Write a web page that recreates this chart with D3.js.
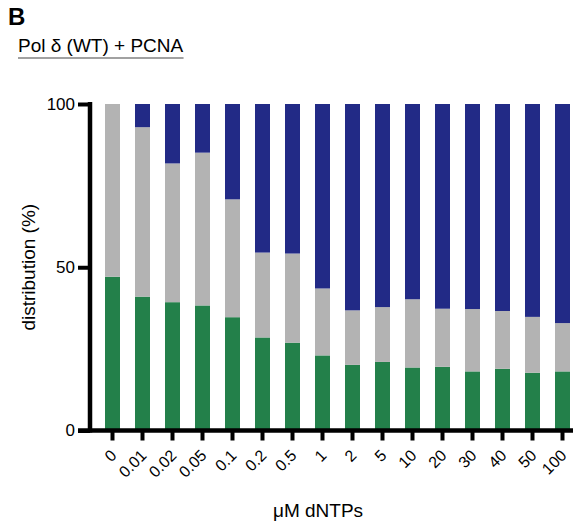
<!DOCTYPE html>
<html>
<head>
<meta charset="utf-8">
<script src="https://cdn.jsdelivr.net/npm/d3@7"></script>
<style>
  body { margin: 0; background: #fff; }
  text { font-family: "Liberation Sans", Arial, sans-serif; }
</style>
</head>
<body>
<svg id="chart" width="579" height="527"></svg>
<script>
// dNTP concentrations (uM) and the share of each product class per lane (%)
const concentrations = ['0', '0.01', '0.02', '0.05', '0.1', '0.2', '0.5', '1', '2', '5', '10', '20', '30', '40', '50', '100'];
const greenPct = [47.1, 41.0, 39.3, 38.3, 34.7, 28.5, 26.9, 23.0, 20.1, 21.0, 19.3, 19.5, 18.1, 18.9, 17.7, 18.1];
const grayPct  = [52.9, 51.9, 42.5, 46.8, 36.1, 26.0, 27.3, 20.5, 16.7, 16.8, 20.9, 17.8, 19.1, 17.7, 17.1, 14.8];
const bluePct  = [0.0, 7.1, 18.2, 14.9, 29.2, 45.5, 45.8, 56.5, 63.2, 62.2, 59.8, 62.7, 62.8, 63.4, 65.2, 67.1];
const yTicks = [0, 50, 100];

const colors = {green: '#23804a', gray: '#b3b3b3', blue: '#222a86'};

const rows = concentrations.map((c, i) => ({
    conc: c, green: greenPct[i], gray: grayPct[i], blue: bluePct[i]
}));

const svg = d3.select('#chart');

const xScale = d3.scaleBand()
    .domain(concentrations)
    .range([96, 579])
    .paddingInner(0.5)
    .paddingOuter(0.3);

const yScale = d3.scaleLinear()
    .domain([0, 100])
    .range([430.5, 104]);

// Stacked bars
const series = d3.stack().keys(['green', 'gray', 'blue'])(rows);

svg.append('g')
    .selectAll('g')
    .data(series)
    .enter()
    .append('g')
    .attr('fill', d => colors[d.key])
    .selectAll('rect')
    .data(d => d)
    .enter()
    .append('rect')
    .attr('x', d => xScale(d.data.conc))
    .attr('y', d => yScale(d[1]))
    .attr('width', xScale.bandwidth())
    .attr('height', d => yScale(d[0]) - yScale(d[1]));

// Y axis
const yAxis = svg.append('g')
    .attr('transform', 'translate(90,0)')
    .call(d3.axisLeft(yScale).tickValues(yTicks).tickSize(12).tickSizeOuter(0).tickPadding(3));
yAxis.select('.domain').attr('stroke-width', 4.5).attr('d', `M0,${yScale(100) - 2}V${yScale(0) + 2}`);
yAxis.selectAll('.tick line').attr('stroke-width', 4);
yAxis.selectAll('.tick text')
    .style('font-size', '17px')
    .style('font-family', '"Liberation Sans", Arial, sans-serif')
    .attr('fill', '#000');

// X axis
const xAxis = svg.append('g')
    .attr('transform', `translate(0,${yScale(0)})`)
    .call(d3.axisBottom(xScale).tickSize(10).tickSizeOuter(0));
xAxis.select('.domain').attr('stroke-width', 4.5)
    .attr('d', `M78,0H${xScale(concentrations[concentrations.length - 1]) + xScale.bandwidth() + 3}`);
xAxis.selectAll('.tick line').attr('stroke-width', 4);
xAxis.selectAll('.tick text')
    .style('font-size', '16px')
    .style('font-family', '"Liberation Sans", Arial, sans-serif')
    .attr('fill', '#000')
    .attr('text-anchor', 'end')
    .attr('dy', null)
    .attr('y', 0)
    .attr('transform', 'translate(5,26) rotate(-45)');

// Axis titles
svg.append('text')
    .attr('transform', `translate(35,${yScale(50)}) rotate(-90)`)
    .attr('text-anchor', 'middle')
    .style('font-size', '19px')
    .text('distribution (%)');

svg.append('text')
    .attr('x', 318)
    .attr('y', 517)
    .attr('text-anchor', 'middle')
    .style('font-size', '19px')
    .text('\u03BCM dNTPs');

// Panel letter and header
svg.append('text')
    .attr('x', 8)
    .attr('y', 25)
    .style('font-size', '24px')
    .style('font-weight', 'bold')
    .text('B');

const header = svg.append('text')
    .attr('x', 18)
    .attr('y', 52)
    .style('font-size', '19px')
    .text('Pol \u03B4 (WT) + PCNA');

const hb = header.node().getBBox();
svg.append('line')
    .attr('x1', hb.x)
    .attr('x2', hb.x + hb.width)
    .attr('y1', 58)
    .attr('y2', 58)
    .attr('stroke', '#444')
    .attr('stroke-width', 1.2);
</script>
</body>
</html>
